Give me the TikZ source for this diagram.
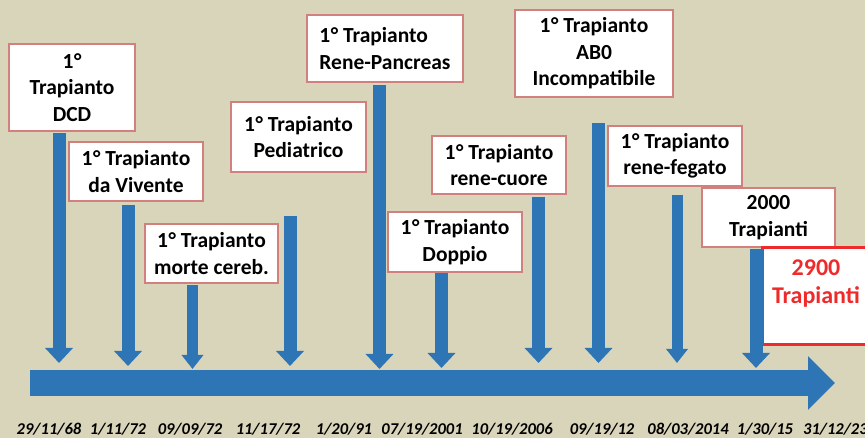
\documentclass[tikz,border=0pt]{standalone}
\usepackage{fontspec}
\setmainfont{Carlito}
\usetikzlibrary{arrows.meta}
\definecolor{bg}{RGB}{217,213,186}
\definecolor{tlblue}{RGB}{46,117,182}
\definecolor{boxline}{RGB}{210,128,126}
\definecolor{hired}{RGB}{238,42,42}
\newcommand{\firstdeg}{1\kern0.5pt°}
\begin{document}
\begin{tikzpicture}[x=1pt,y=-1pt,
  evbox/.style={draw=boxline, line width=1.4pt, fill=white, text=black,
    font=\bfseries\fontsize{21.5}{26.5}\selectfont, align=center, inner sep=0pt},
  pointer/.style={draw=tlblue, line width=13pt, -{Triangle[width=27pt,length=15pt]}},
  thinpointer/.style={pointer, line width=11pt, -{Triangle[width=21pt,length=14pt]}},
  timeline/.style={draw=tlblue, line width=26pt, -{Triangle[width=52pt,length=27pt]}},
  datelbl/.style={font=\bfseries\itshape\fontsize{16.5}{18}\selectfont, text=black, inner sep=0pt}]
\fill[bg] (0,0) rectangle (865,438);
\useasboundingbox (0,0) rectangle (865,438);
\clip (0,0) rectangle (865,438);

% timeline
\coordinate (tl0) at (30,383);
\coordinate (tl1) at (835,383);
\draw[timeline] (tl0) -- (tl1);

% event boxes
\node[evbox, minimum width=126pt, minimum height=87pt] (b1) at (72,87.5) {\firstdeg\\Trapianto\\DCD};
\node[evbox, minimum width=134pt, minimum height=59pt] (b2) at (136,171.5) {\firstdeg{} Trapianto\\da Vivente};
\node[evbox, minimum width=133pt, minimum height=59pt] (b3) at (211.5,253.5) {\firstdeg{} Trapianto\\morte cereb.};
\node[evbox, minimum width=135pt, minimum height=70pt] (b4) at (298.5,137) {\firstdeg{} Trapianto\\Pediatrico};
\node[evbox, align=left, minimum width=156pt, minimum height=67pt] (b5) at (385,48.5) {\firstdeg{} Trapianto\\Rene-Pancreas};
\node[evbox, minimum width=158pt, minimum height=87pt] (b6) at (594,53.5) {\firstdeg{} Trapianto\\AB0\\Incompatibile};
\node[evbox, minimum width=134pt, minimum height=58pt] (b7) at (499,165) {\firstdeg{} Trapianto\\rene-cuore};
\node[evbox, minimum width=134pt, minimum height=60pt] (b8) at (455,242) {\firstdeg{} Trapianto\\Doppio};
\node[evbox, minimum width=134pt, minimum height=60pt] (b9) at (675,156) {\firstdeg{} Trapianto\\rene-fegato};
\node[evbox, minimum width=133pt, minimum height=59pt] (b10) at (768.5,217.5) {2000\\Trapianti};
\node[draw=hired, line width=3pt, fill=white, minimum width=108pt, minimum height=97pt, inner sep=0pt] (b11) at (816,296.5) {};
\node[font=\bfseries\fontsize{24}{28}\selectfont, text=hired, align=center] (b11t) at (816,284) {2900\\Trapianti};

% pointers
\coordinate (s1) at (59,133);    \coordinate (t1) at (59,363);
\coordinate (s2) at (128,205);   \coordinate (t2) at (128,366);
\coordinate (s3) at (192.5,285); \coordinate (t3) at (192.5,369);
\coordinate (s4) at (290,216);   \coordinate (t4) at (290,366);
\coordinate (s5) at (379.5,85);  \coordinate (t5) at (379.5,369);
\coordinate (s6) at (441.5,273); \coordinate (t6) at (441.5,368);
\coordinate (s7) at (538.5,197); \coordinate (t7) at (538.5,363);
\coordinate (s8) at (598.5,123); \coordinate (t8) at (598.5,363);
\coordinate (s9) at (677,195);   \coordinate (t9) at (677,363);
\coordinate (s10) at (756,249);  \coordinate (t10) at (756,368);
\draw[pointer] (s1) -- (t1);
\draw[pointer] (s2) -- (t2);
\draw[thinpointer] (s3) -- (t3);
\draw[pointer] (s4) -- (t4);
\draw[pointer] (s5) -- (t5);
\draw[pointer] (s6) -- (t6);
\draw[pointer] (s7) -- (t7);
\draw[pointer] (s8) -- (t8);
\draw[thinpointer] (s9) -- (t9);
\draw[pointer] (s10) -- (t10);

% dates
\node[datelbl] (d1) at (49,429.5) {29/11/68};
\node[datelbl] (d2) at (118,429.5) {1/11/72};
\node[datelbl] (d3) at (190,429.5) {09/09/72};
\node[datelbl] (d4) at (268,429.5) {11/17/72};
\node[datelbl] (d5) at (344,429.5) {1/20/91};
\node[datelbl] (d6) at (422,429.5) {07/19/2001};
\node[datelbl] (d7) at (512,429.5) {10/19/2006};
\node[datelbl] (d8) at (602,429.5) {09/19/12};
\node[datelbl] (d9) at (688,429.5) {08/03/2014};
\node[datelbl] (d10) at (765,429.5) {1/30/15};
\node[datelbl, anchor=west] (d11) at (803,429.5) {31/12/23};
\end{tikzpicture}
\end{document}
